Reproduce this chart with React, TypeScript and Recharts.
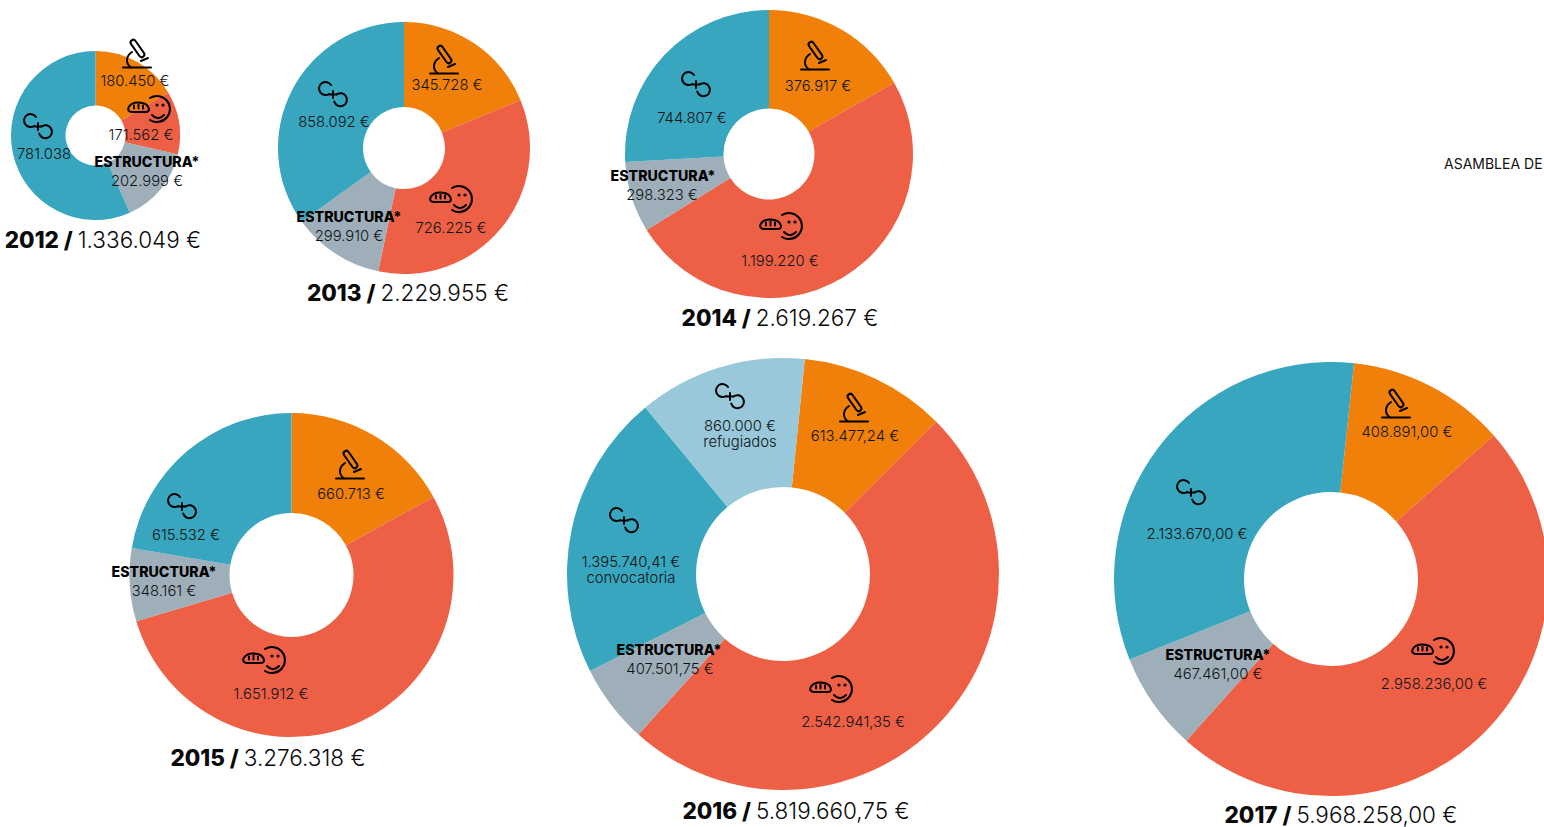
import React from "react";
import { PieChart, Pie, Cell } from "recharts";

const FONT = "Inter, 'Noto Sans', sans-serif";
const TEXT = "#0e1315";

const sliceNames = ["ciencia", "alimentacion", "estructura", "cooperacion", "refugiados"];
const sliceColors = ["#F0800A", "#EE6045", "#9EAFBA", "#37A6BE", "#98C8D9"];

// slice sizes in degrees (they don't follow the printed amounts exactly)
const slices2012 = [59.4, 43.6, 53, 204];
const slices2013 = [67.7, 124.1, 42.5, 125.7];
const slices2014 = [60.4, 177.8, 28.6, 93.2];
const slices2015 = [61.2, 192.2, 26.2, 80.4];
const slices2016 = [39.4, 176.8, 21.3, 77.1, 45.4];
const slices2017 = [42.5, 173.2, 26.4, 117.9];

const amounts2012 = ["180.450 €", "171.562 €", "202.999 €", "781.038"];
const amounts2013 = ["345.728 €", "726.225 €", "299.910 €", "858.092 €"];
const amounts2014 = ["376.917 €", "1.199.220 €", "298.323 €", "744.807 €"];
const amounts2015 = ["660.713 €", "1.651.912 €", "348.161 €", "615.532 €"];
const amounts2016 = ["613.477,24 €", "2.542.941,35 €", "407.501,75 €", "1.395.740,41 €", "860.000 €"];
const amounts2017 = ["408.891,00 €", "2.958.236,00 €", "467.461,00 €", "2.133.670,00 €"];

const years = ["2012", "2013", "2014", "2015", "2016", "2017"];
const totals = ["1.336.049 €", "2.229.955 €", "2.619.267 €", "3.276.318 €", "5.819.660,75 €", "5.968.258,00 €"];

const allSlices = [slices2012, slices2013, slices2014, slices2015, slices2016, slices2017];
const allAmounts = [amounts2012, amounts2013, amounts2014, amounts2015, amounts2016, amounts2017];

// hand placed layout, one entry per donut
const donuts = [
  { cx: 95.5, cy: 135.5, r: 84.5, inner: 30, start: 0, title: [103, 248],
    amountAt: [[135, 86], [141, 140], [147, 186], [44, 159]], structAt: [147, 167],
    micro: [137, 54], bread: [149, 110], links: [[38, 126]] },
  { cx: 404, cy: 148, r: 126, inner: 41, start: 0, title: [408, 301],
    amountAt: [[447, 90], [451, 233], [349, 241], [334, 127]], structAt: [349, 222],
    micro: [444, 60], bread: [451, 200], links: [[333, 94]] },
  { cx: 769, cy: 154, r: 144, inner: 45.5, start: 0, title: [780, 326],
    amountAt: [[818, 91], [780, 266], [662, 200], [692, 123]], structAt: [663, 181],
    micro: [815, 56], bread: [781, 227], links: [[696, 84]] },
  { cx: 291.5, cy: 575, r: 162, inner: 62, start: 0, title: [268, 766],
    amountAt: [[351, 499], [271, 699], [164, 596], [186, 540]], structAt: [164, 577],
    micro: [350, 465], bread: [264, 661], links: [[182, 506]] },
  { cx: 783, cy: 574, r: 216, inner: 87, start: 5.8, title: [796, 818.5],
    amountAt: [[855, 441], [853, 727], [670, 674], [631, 567], [740, 431]], structAt: [669, 655],
    micro: [854, 408], bread: [831, 690], links: [[624, 520], [730, 396]] },
  { cx: 1331, cy: 579, r: 217, inner: 87, start: 6.1, title: [1341, 822.5],
    amountAt: [[1407, 437], [1434, 689], [1218, 679], [1197, 539]], structAt: [1218, 660],
    micro: [1396, 404], bread: [1433, 652], links: [[1191, 492]] },
];

const iconStyle = { fill: "none", stroke: "#000", strokeWidth: 2, strokeLinecap: "round" as const };

function Microscope({ at }: { at: number[] }) {
  return (
    <g transform={`translate(${at[0]},${at[1]})`} {...iconStyle}>
      <path d="M-14,13.5H14" />
      <rect x={-2.7} y={-10} width={5.4} height={20} rx={2.7} transform="translate(0.5,-5.5) rotate(-35)" />
      <path d="M-5,-2C-11,2 -12,9 -6,13.5" />
      <path d="M4,7L11,4" />
    </g>
  );
}

function BreadFace({ at }: { at: number[] }) {
  return (
    <g transform={`translate(${at[0]},${at[1] - 0.5})`} {...iconStyle}>
      <path d="M1,-11.5A13,13 0 1 1 1,10.5" />
      <path d="M-17,2.5H-3C0,2.5 0.5,0 -0.5,-2C-3,-8 -17,-9.5 -20.5,-2C-21.5,0.5 -20,2.5 -17,2.5Z" />
      <path d="M-15,-4V-1M-10.5,-5V-1M-6,-4V-1" />
      <path d="M3,5.5Q9,12 15,5.5" />
      <circle cx={8} cy={-4.5} r={0.6} />
      <circle cx={14} cy={-4.5} r={0.6} />
    </g>
  );
}

function LinkIcon({ at }: { at: number[] }) {
  return (
    <g transform={`translate(${at[0]},${at[1]})`} {...iconStyle}>
      <path d="M-2,-9A6.5,6.5 0 1 0 -4,0" />
      <path d="M3.5,0.5A6.5,6.5 0 1 1 1.2,7.5" />
      <path d="M-3.5,0.5H3.5M0,-3V4" />
    </g>
  );
}

const Label = ({ x, y, bold, children }: any) => (
  <text x={x} y={y} textAnchor="middle" fontFamily={FONT} fontSize={bold ? 14.2 : 14.8} fontWeight={bold ? 800 : 300} fill={bold ? "#000" : TEXT}>
    {children}
  </text>
);

export default function App() {
  return (
    <div style={{ position: "absolute", left: 0, top: 0, width: 1544, height: 827, overflow: "hidden" }}>
      <PieChart width={1544} height={827} margin={{ top: 0, right: 0, bottom: 0, left: 0 }}>
        {donuts.map((d, k) => (
          <Pie
            key={years[k]}
            data={allSlices[k].map((value, i) => ({ name: sliceNames[i], value }))}
            dataKey="value"
            cx={d.cx}
            cy={d.cy}
            innerRadius={d.inner}
            outerRadius={d.r}
            startAngle={90 - d.start}
            endAngle={90 - d.start - 360}
            stroke="none"
            isAnimationActive={false}
          >
            {allSlices[k].map((_, i) => (
              <Cell key={i} fill={sliceColors[i]} />
            ))}
          </Pie>
        ))}
      </PieChart>
      {/* labels and icons sit on top of the pies, in their own svg */}
      <svg width={1544} height={827} style={{ position: "absolute", left: 0, top: 0, pointerEvents: "none" }}>
        {donuts.map((d, k) => (
          <g key={years[k]}>
            <Microscope at={d.micro} />
            <BreadFace at={d.bread} />
            {d.links.map((p, i) => (
              <LinkIcon key={i} at={p} />
            ))}
            {allAmounts[k].map((a, i) => (
              <Label key={i} x={d.amountAt[i][0]} y={d.amountAt[i][1]}>
                {a}
              </Label>
            ))}
            <Label x={d.structAt[0]} y={d.structAt[1]} bold>
              ESTRUCTURA*
            </Label>
            <text x={d.title[0]} y={d.title[1]} textAnchor="middle" fontFamily={FONT} fontSize={22.5} fill="#0a0a0a">
              <tspan fontWeight={800}>{years[k]} / </tspan>
              <tspan fontWeight={300}>{totals[k]}</tspan>
            </text>
          </g>
        ))}
        <Label x={631} y={583}>convocatoria</Label>
        <Label x={740} y={447}>refugiados</Label>
        <text x={1444} y={169} fontFamily={FONT} fontSize={14} fontWeight={400} fill="#111">ASAMBLEA DE</text>
      </svg>
    </div>
  );
}
